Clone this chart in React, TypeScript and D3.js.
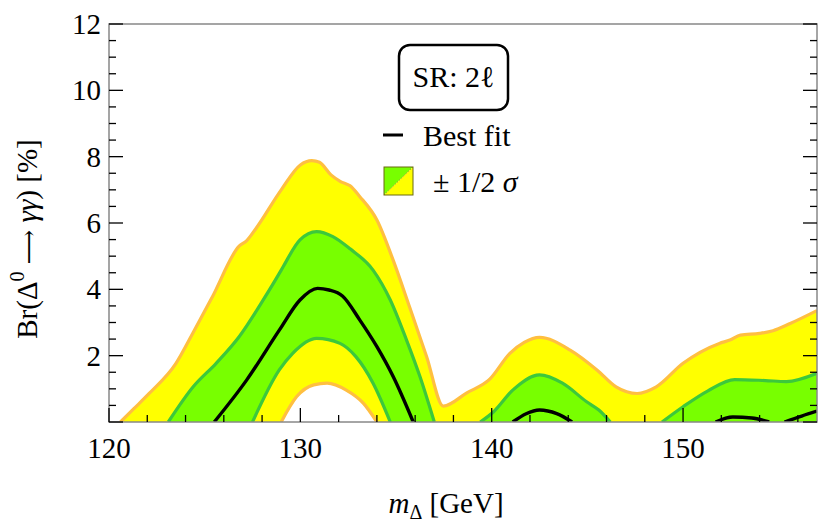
import React from "react";
import * as d3 from "d3";

// ---- data ----
const yellowUpperM = [120.6, 121.3, 122.1, 123.5, 124.4, 125.4, 126.8, 127.2, 127.7, 129.0, 130.0, 130.6, 131.0, 131.6, 132.1, 132.6, 133.1, 134.0, 134.85, 135.7, 136.6, 137.47, 138.7, 139.9, 140.95, 141.7, 142.5, 144.1, 145.5, 146.5, 147.6, 148.6, 150.0, 151.9, 152.45, 153.0, 154.0, 154.7, 155.6, 157.0];
const yellowUpperV = [0, 0.4, 0.86, 1.77, 2.7, 3.77, 5.3, 5.47, 5.85, 7.0, 7.75, 7.88, 7.83, 7.45, 7.25, 7.12, 6.8, 6.09, 4.88, 3.48, 1.97, 0.48, 0.88, 1.29, 2.07, 2.4, 2.55, 2.17, 1.57, 1.06, 0.86, 1.06, 1.77, 2.37, 2.47, 2.62, 2.67, 2.75, 2.97, 3.36];

const yellowLowerM = [129.0, 129.8, 130.7, 131.4, 132.4, 133.3, 134.0];
const yellowLowerV = [0, 0.76, 1.12, 1.17, 0.96, 0.56, 0];

const greenUpper1M = [123.1, 124.4, 125.6, 126.8, 128.06, 128.9, 129.1, 129.98, 130.85, 131.7, 132.6, 133.8, 134.7, 135.55, 136.25, 137.0];
const greenUpper1V = [0, 1.06, 1.77, 2.57, 3.68, 4.48, 4.68, 5.49, 5.74, 5.59, 5.22, 4.58, 3.68, 2.47, 1.37, 0];
const greenUpper2M = [139.4, 140.1, 141.1, 142.5, 143.7, 144.96, 145.6, 146.2];
const greenUpper2V = [0, 0.31, 0.96, 1.42, 1.17, 0.61, 0.36, 0];
const greenUpper3M = [148.9, 150.0, 151.3, 152.7, 154.3, 155.4, 157.0];
const greenUpper3V = [0, 0.46, 0.94, 1.28, 1.25, 1.22, 1.47];

const greenLowerM = [127.5, 128.9, 129.6, 130.85, 132.07, 132.9, 133.8, 134.7];
const greenLowerV = [0, 1.57, 2.07, 2.52, 2.37, 1.97, 1.17, 0];

const best1M = [125.5, 127.2, 128.9, 129.98, 130.9, 131.5, 132.2, 133.1, 134.0, 134.85, 135.9];
const best1V = [0, 1.27, 2.77, 3.68, 4.03, 3.98, 3.8, 3.08, 2.27, 1.37, 0];
const best2M = [141.1, 141.8, 142.5, 143.4, 144.2];
const best2V = [0, 0.25, 0.36, 0.25, 0];
const best3M = [151.7, 152.6, 153.6, 154.5];
const best3V = [0, 0.15, 0.12, 0];
const best4M = [155.3, 156.2, 157.0];
const best4V = [0, 0.18, 0.33];

const xMajorTicks = [120, 130, 140, 150];
const yMajorTicks = [2, 4, 6, 8, 10, 12];

// ---- layout ----
const W = 830, H = 532;
const L = 109, R = 817, T = 24, B = 422;
const FONT = "'Liberation Serif', 'DejaVu Serif', serif";
const YELLOW = "#ffff00", GREEN = "#78ff00", ORANGE = "#ffbf40", GREENLINE = "#3cc83c";

const x = d3.scaleLinear().domain([120, 157]).range([L, R]);
const y = d3.scaleLinear().domain([0, 12]).range([B, T]);

type P = [number, number];
const pts = (m: number[], v: number[]): P[] => m.map((mm, i) => [mm, v[i]]);

const line = d3.line<P>().x(d => x(d[0])).y(d => y(d[1])).curve(d3.curveMonotoneX);
const area = d3.area<P>().x(d => x(d[0])).y0(y(0)).y1(d => y(d[1])).curve(d3.curveMonotoneX);

export default function App() {
  const yellowUpper = pts(yellowUpperM, yellowUpperV);
  const yellowLower = pts(yellowLowerM, yellowLowerV);
  const greens = [pts(greenUpper1M, greenUpper1V), pts(greenUpper2M, greenUpper2V), pts(greenUpper3M, greenUpper3V)];
  const greenLower = pts(greenLowerM, greenLowerV);
  const bests = [pts(best1M, best1V), pts(best2M, best2V), pts(best3M, best3V), pts(best4M, best4V)];

  const xMinor = d3.range(120, 157.01, 2);
  const yMinor = d3.range(0, 12.01, 0.5);

  return (
    <svg width={W} height={H} style={{ position: "absolute", left: 0, top: 0, background: "#fff" }}>
      <defs>
        <clipPath id="plot">
          <rect x={L} y={T} width={R - L} height={B - T} />
        </clipPath>
      </defs>
      <g clipPath="url(#plot)">
        <path d={area(yellowUpper) || ""} fill={YELLOW} />
        {greens.map((g, i) => <path key={"ga" + i} d={area(g) || ""} fill={GREEN} />)}
        <path d={area(greenLower) || ""} fill={YELLOW} />
        <path d={area(yellowLower) || ""} fill="#fff" />
        <path d={line(yellowUpper) || ""} fill="none" stroke={ORANGE} strokeWidth={3.2} />
        <path d={line(yellowLower) || ""} fill="none" stroke={ORANGE} strokeWidth={3.2} />
        {greens.map((g, i) => <path key={"gl" + i} d={line(g) || ""} fill="none" stroke={GREENLINE} strokeWidth={3.2} />)}
        <path d={line(greenLower) || ""} fill="none" stroke={GREENLINE} strokeWidth={3.2} />
        {bests.map((b, i) => <path key={"b" + i} d={line(b) || ""} fill="none" stroke="#000" strokeWidth={3.4} />)}
      </g>

      {/* frame */}
      <rect x={L} y={T} width={R - L} height={B - T} fill="none" stroke="#888" strokeWidth={1.5} />

      {/* x ticks */}
      {xMinor.map(t => {
        const len = (t % 10 === 0) ? 14 : 7;
        return <line key={"xt" + t} x1={x(t)} x2={x(t)} y1={B} y2={B - len} stroke="#000" strokeWidth={1.3} />;
      })}
      {/* y ticks left and right */}
      {yMinor.map(t => {
        const len = (t % 2 === 0) ? 14 : 7;
        return (
          <g key={"yt" + t}>
            <line x1={L} x2={L + len} y1={y(t)} y2={y(t)} stroke="#000" strokeWidth={1.3} />
            <line x1={R} x2={R - len} y1={y(t)} y2={y(t)} stroke="#000" strokeWidth={1.3} />
          </g>
        );
      })}

      {/* tick labels */}
      {xMajorTicks.map(t => (
        <text key={"xl" + t} x={x(t)} y={458} textAnchor="middle" fontFamily={FONT} fontSize={29}>{t}</text>
      ))}
      {yMajorTicks.map(t => (
        <text key={"yl" + t} x={101} y={y(t) + 10} textAnchor="end" fontFamily={FONT} fontSize={29}>{t}</text>
      ))}

      {/* axis titles */}
      <text x={446} y={513} textAnchor="middle" fontFamily={FONT} fontSize={29}>
        <tspan fontStyle="italic">m</tspan>
        <tspan fontSize={20} dy={6}>Δ</tspan>
        <tspan dy={-6}> [GeV]</tspan>
      </text>
      <text transform="translate(37,239) rotate(-90)" textAnchor="middle" fontFamily={FONT} fontSize={29}>
        <tspan>Br(Δ</tspan>
        <tspan fontSize={20} dy={-13}>0</tspan>
        <tspan dy={13}> </tspan>
        <tspan fontFamily="'DejaVu Serif', serif" fontSize={24}>⟶</tspan>
        <tspan> </tspan>
        <tspan fontStyle="italic">γγ</tspan>
        <tspan>) [%]</tspan>
      </text>

      {/* legend */}
      <rect x={399} y={45} width={109} height={65} rx={11} ry={11} fill="#fff" stroke="#000" strokeWidth={2.5} />
      <text x={453.5} y={87} textAnchor="middle" fontFamily={FONT} fontSize={30}>SR: 2ℓ</text>

      <line x1={383} x2={403} y1={135} y2={135} stroke="#000" strokeWidth={3} />
      <text x={423} y={146} fontFamily={FONT} fontSize={30}>Best fit</text>

      <polygon points="384,167 413,167 384,195" fill={GREEN} />
      <polygon points="413,167 413,195 384,195" fill={YELLOW} />
      <line x1={384} y1={195} x2={413} y2={167} stroke="#8a8a20" strokeWidth={0.8} strokeDasharray="1.5,1.5" />
      <rect x={384} y={167} width={29} height={28} fill="none" stroke="#6b6b10" strokeWidth={1} />
      <text x={433} y={192} fontFamily={FONT} fontSize={30}>
        <tspan>± 1/2 </tspan>
        <tspan fontStyle="italic">σ</tspan>
      </text>
    </svg>
  );
}
